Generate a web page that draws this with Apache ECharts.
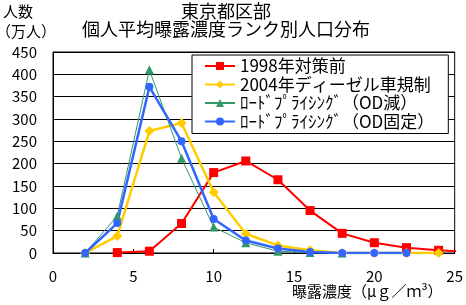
<!DOCTYPE html>
<html>
<head>
<meta charset="utf-8">
<script src="https://cdn.jsdelivr.net/npm/echarts@6/dist/echarts.min.js"></script>
<style>
  html, body { margin: 0; padding: 0; background: #fff; }
  #chart { width: 466px; height: 305px; }
</style>
</head>
<body>
<div id="chart"></div>
<script>
// 曝露濃度 (x) と各ケースの人口 (万人)
var xValues = [2, 4, 6, 8, 10, 12, 14, 16, 18, 20, 22, 24, 26];
var before1998 = [null, 1, 4, 66, 180, 206, 164, 95, 44, 23, 12, 6, 2];
var diesel2004 = [0, 38, 273, 291, 136, 43, 17, 6, 0, 0, 0, 0, null];
var roadOdDown = [0, 83, 410, 212, 58, 23, 4, 1, 0, null, null, null, null];
var roadOdFixed = [0, 67, 372, 250, 76, 28, 10, 2, 0, 0, 0, null, null];
var seriesNames = ["1998年対策前", "2004年ディーゼル車規制", "ﾛｰﾄﾞﾌﾟﾗｲｼﾝｸﾞ（OD減）", "ﾛｰﾄﾞﾌﾟﾗｲｼﾝｸﾞ（OD固定）"];

var FONT = '"Noto Sans CJK JP", "DejaVu Sans", sans-serif';

function pairs(values) {
  var out = [];
  for (var i = 0; i < xValues.length; i++) {
    out.push([xValues[i], values[i]]);
  }
  return out;
}

var chart = echarts.init(document.getElementById("chart"));
chart.setOption({
  animation: false,
  backgroundColor: "#fff",
  textStyle: { fontFamily: FONT, color: "#000" },
  title: [
    {
      text: "東京都区部\n個人平均曝露濃度ランク別人口分布",
      left: 226,
      top: 2,
      padding: 0,
      textAlign: "center",
      textStyle: { fontFamily: FONT, fontSize: 18, fontWeight: "normal", color: "#000", lineHeight: 18 }
    },
    {
      text: "人数",
      left: 3,
      top: 4,
      padding: 0,
      textStyle: { fontFamily: FONT, fontSize: 15, fontWeight: "normal", color: "#000" }
    },
    {
      text: "（万人）",
      left: -4,
      top: 24,
      padding: 0,
      textStyle: { fontFamily: FONT, fontSize: 15, fontWeight: "normal", color: "#000" }
    },
    {
      text: "曝露濃度（μｇ／ｍ³）",
      left: 292,
      top: 284,
      padding: 0,
      textStyle: { fontFamily: FONT, fontSize: 15, fontWeight: "normal", color: "#000" }
    }
  ],
  grid: {
    left: 53,
    right: 11,
    top: 52,
    bottom: 52,
    show: true,
    borderColor: "#000",
    borderWidth: 1
  },
  legend: {
    orient: "vertical",
    left: 192,
    top: 55,
    z: 20,
    padding: [2, 14, 3, 12],
    itemWidth: 30,
    itemHeight: 10,
    itemGap: 0.5,
    backgroundColor: "#fff",
    borderColor: "#000",
    borderWidth: 1,
    textStyle: { fontFamily: FONT, fontSize: 17, color: "#000", lineHeight: 18 },
    data: seriesNames
  },
  xAxis: {
    type: "value",
    min: 0,
    max: 25,
    interval: 5,
    axisLine: { show: true, lineStyle: { color: "#000", width: 1 } },
    axisTick: { show: true, inside: true, length: 4, lineStyle: { color: "#000" } },
    axisLabel: { margin: 16, fontSize: 15, color: "#000", fontFamily: FONT },
    splitLine: { show: false }
  },
  yAxis: {
    type: "value",
    min: 0,
    max: 450,
    interval: 50,
    axisLine: { show: true, lineStyle: { color: "#000", width: 1 } },
    axisTick: { show: false },
    axisLabel: { margin: 16, fontSize: 15, color: "#000", fontFamily: FONT },
    splitLine: { show: true, lineStyle: { color: "#000", width: 1, type: "solid" } }
  },
  series: [
    {
      name: seriesNames[0],
      type: "line",
      data: pairs(before1998),
      symbol: "rect",
      symbolSize: 9,
      color: "#FF0000",
      lineStyle: { width: 2 },
      itemStyle: { color: "#FF0000" }
    },
    {
      name: seriesNames[1],
      type: "line",
      data: pairs(diesel2004),
      symbol: "diamond",
      symbolSize: 10,
      color: "#FFCC00",
      lineStyle: { width: 2.5 },
      itemStyle: { color: "#FFCC00" }
    },
    {
      name: seriesNames[2],
      type: "line",
      data: pairs(roadOdDown),
      symbol: "triangle",
      symbolSize: 9,
      color: "#339966",
      lineStyle: { width: 1 },
      itemStyle: { color: "#339966" }
    },
    {
      name: seriesNames[3],
      type: "line",
      data: pairs(roadOdFixed),
      symbol: "circle",
      symbolSize: 8,
      color: "#3366FF",
      lineStyle: { width: 2.5 },
      itemStyle: { color: "#3366FF" }
    }
  ]
});
</script>
</body>
</html>
